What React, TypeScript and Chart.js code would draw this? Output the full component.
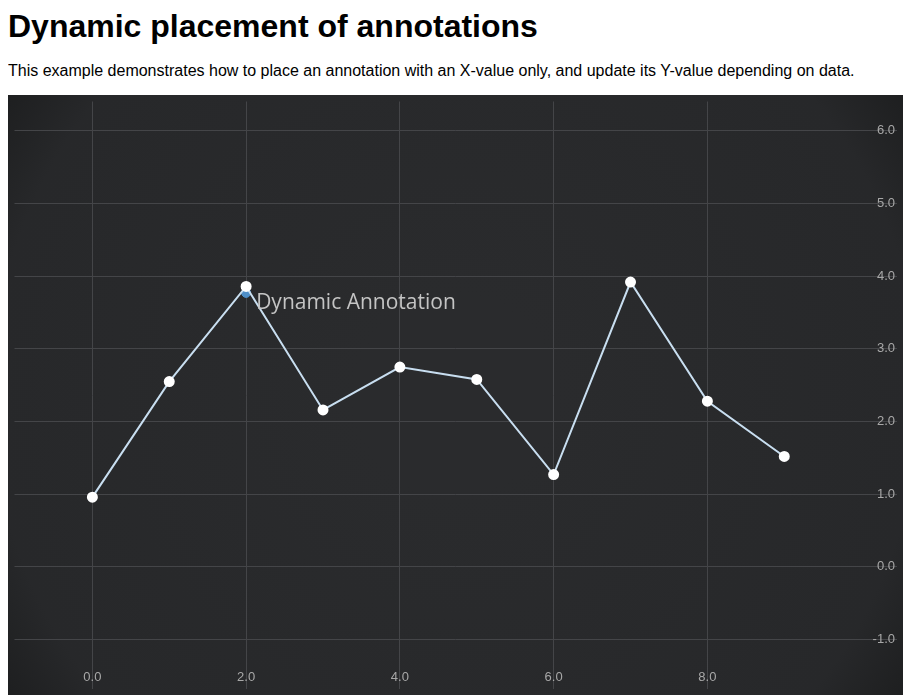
import { useEffect, useRef } from "react";
import { Chart, registerables } from "chart.js";

Chart.register(...registerables);

const xValues = [0, 1, 2, 3, 4, 5, 6, 7, 8, 9];
const yValues = [0.96, 2.55, 3.86, 2.16, 2.75, 2.58, 1.27, 3.92, 2.28, 1.52];
const annotationX = 2;
const annotationY = 3.77;
const annotationText = "Dynamic Annotation";
const xTicks = [0, 2, 4, 6, 8];
const yTicks = [-1, 0, 1, 2, 3, 4, 5, 6];

const bgPlugin = {
  id: "bg",
  beforeDraw(chart: Chart) {
    const { ctx, width, height } = chart;
    ctx.save();
    const g = ctx.createRadialGradient(width / 2, height / 2, 100, width / 2, height / 2, width * 0.62);
    g.addColorStop(0, "#2a2b2d");
    g.addColorStop(0.8, "#27282a");
    g.addColorStop(1, "#1c1d1e");
    ctx.fillStyle = g;
    ctx.fillRect(0, 0, width, height);
    ctx.restore();
  },
};

// tick labels sit inside the plot area, as in the reference
const tickLabelPlugin = {
  id: "tickLabels",
  afterDraw(chart: Chart) {
    const { ctx, width, height } = chart;
    ctx.save();
    ctx.font = "13px Arial, 'Liberation Sans'";
    ctx.fillStyle = "#a8a8a8";
    ctx.textBaseline = "middle";
    ctx.textAlign = "center";
    xTicks.forEach((v) => {
      ctx.fillText(v.toFixed(1), chart.scales.x.getPixelForValue(v), height - 18);
    });
    ctx.textAlign = "right";
    yTicks.forEach((v) => {
      ctx.fillText(v.toFixed(1), width - 8, chart.scales.y.getPixelForValue(v));
    });
    ctx.restore();
  },
};

const labelPlugin = {
  id: "annLabel",
  afterDatasetsDraw(chart: Chart) {
    const { ctx } = chart;
    const x = chart.scales.x.getPixelForValue(annotationX);
    const y = chart.scales.y.getPixelForValue(annotationY);
    ctx.save();
    ctx.font = "21px 'Open Sans', sans-serif";
    ctx.fillStyle = "#c4c4c4";
    ctx.textBaseline = "middle";
    ctx.fillText(annotationText, x + 10, y + 10);
    ctx.restore();
  },
};

function LineChart() {
  const canvasRef = useRef<HTMLCanvasElement | null>(null);
  const chartRef = useRef<Chart | null>(null);

  useEffect(() => {
    const ctx = canvasRef.current?.getContext("2d");
    if (!ctx) return;
    chartRef.current = new Chart(ctx, {
      type: "line",
      data: {
        datasets: [
          {
            data: xValues.map((x, i) => ({ x, y: yValues[i] })),
            borderColor: "#c8def0",
            borderWidth: 2,
            pointBackgroundColor: "#ffffff",
            pointBorderColor: "#ffffff",
            pointRadius: 4.5,
            tension: 0,
          },
          {
            data: [{ x: annotationX, y: annotationY }],
            showLine: false,
            pointBackgroundColor: "#4f8fc8",
            pointBorderColor: "#4f8fc8",
            pointRadius: 4.5,
          },
        ],
      },
      options: {
        animation: false,
        responsive: false,
        layout: { padding: 0 },
        plugins: { legend: { display: false }, tooltip: { enabled: false } },
        scales: {
          x: {
            type: "linear",
            min: -1.013,
            max: 10.46,
            afterBuildTicks: (s: any) => {
              s.ticks = xTicks.map((v) => ({ value: v }));
            },
            ticks: { display: false },
            grid: { color: "#444548", drawTicks: false },
            border: { display: false },
          },
          y: {
            position: "right",
            min: -1.673,
            max: 6.404,
            afterBuildTicks: (s: any) => {
              s.ticks = yTicks.map((v) => ({ value: v }));
            },
            ticks: { display: false },
            grid: { color: "#444548", drawTicks: false },
            border: { display: false },
          },
        },
      },
      plugins: [bgPlugin, labelPlugin, tickLabelPlugin],
    });
    return () => {
      chartRef.current?.destroy();
    };
  }, []);

  return <canvas ref={canvasRef} width={895} height={600} style={{ display: "block" }} />;
}

export default function App() {
  return (
    <div style={{ fontFamily: "Arial, 'Liberation Sans', sans-serif" }}>
      <h1 style={{ margin: "0 0 17px 0", fontSize: 32 }}>Dynamic placement of annotations</h1>
      <p style={{ fontSize: 16, margin: "0 0 15px 0" }}>
        This example demonstrates how to place an annotation with an X-value only, and update its Y-value depending on data.
      </p>
      <LineChart />
    </div>
  );
}
